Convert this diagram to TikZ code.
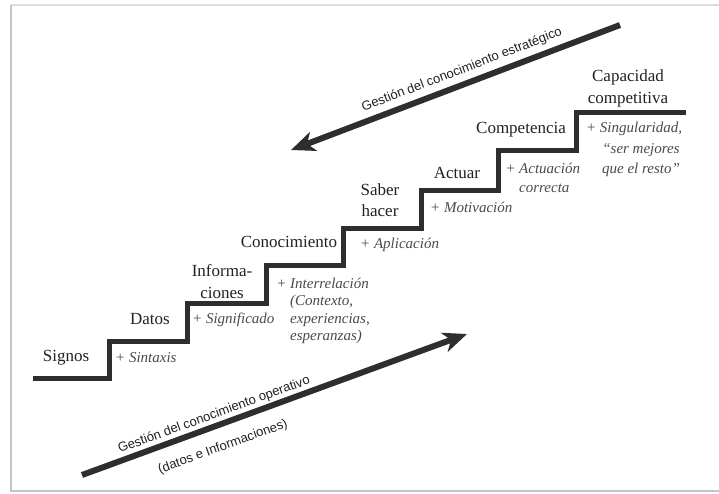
\documentclass[tikz,border=0pt]{standalone}
\usepackage{fontspec}
\setmainfont{Liberation Serif}
\newfontfamily\arrowfont{Liberation Sans}
\usetikzlibrary{arrows.meta}
\definecolor{ink}{HTML}{222222}
\definecolor{note}{HTML}{4A4A4A}
\definecolor{stairgray}{HTML}{2E2E2E}
\definecolor{framegray}{HTML}{C4C4C4}

\begin{document}
\begin{tikzpicture}[x=1pt,y=-1pt,
  stage/.style={text=ink, font=\fontsize{17}{21.5}\selectfont, align=center, inner sep=0pt},
  gain/.style={text=note, font=\fontsize{15}{18}\selectfont\itshape, align=left, inner sep=0pt},
  flowlabel/.style={text=ink, font=\arrowfont\fontsize{13}{15}\selectfont, inner sep=0pt},
  flow/.style={draw=stairgray, line width=6pt, -{Stealth[length=24pt,width=20pt,inset=7pt]}},
  stairline/.style={draw=stairgray, line width=5pt, miter limit=10},
]
\useasboundingbox (0,0) rectangle (719,493);
\fill[white] (0,0) rectangle (719,493);

% card frame
\draw[framegray!60, line width=1.2pt] (11,5) -- (725,5);
\draw[framegray, line width=1.5pt] (11,5) -- (11,491) -- (725,491);

% the staircase
\draw[stairline] (33,378) -- (109,378) -- (109,341) -- (187,341) -- (187,303)
  -- (266,303) -- (266,265) -- (343,265) -- (343,228) -- (421,228) -- (421,190)
  -- (498,190) -- (498,150) -- (576,150) -- (576,112) -- (686,112);

% steps
\node[stage] (signos) at (66,358) {Signos};
\node[stage] (datos) at (150,319) {Datos};
\node[stage, font=\fontsize{17}{22}\selectfont] (info) at (222,282) {Informa-\\ciones};
\node[stage] (conoc) at (289,242) {Conocimiento};
\node[stage] (saber) at (380,200) {Saber\\hacer};
\node[stage] (actuar) at (457,173) {Actuar};
\node[stage] (compet) at (521,130) {Competencia};
\node[stage, font=\fontsize{17}{22}\selectfont] (capac) at (628,88) {Capacidad\\competitiva};

% what each step adds
\node[gain, anchor=west] (sintaxis) at (115,358) {+ Sintaxis};
\node[gain, anchor=west] (signif) at (192,320) {+ Significado};
\node[gain, anchor=west, font=\fontsize{15}{17.5}\selectfont\itshape] (interrel) at (290,311)
  {\llap{+\ }Interrelación\\(Contexto,\\experiencias,\\esperanzas)};
\node[gain, anchor=west] (aplic) at (360,245) {+ Aplicación};
\node[gain, anchor=west] (motiv) at (430,207) {+ Motivación};
\node[gain, anchor=west, font=\fontsize{15}{19}\selectfont\itshape] (actuac) at (519,177.5)
  {\llap{+\ }Actuación\\correcta};
\node[gain, align=center, font=\fontsize{15}{20.5}\selectfont\itshape] (singul) at (641,149.5)
  {\llap{+\ }Singularidad,\\“ser mejores\\que el resto”};

% knowledge management flows
\coordinate (strat-tail) at (620,25);
\coordinate (strat-tip) at (291,150);
\coordinate (oper-tail) at (82,475);
\coordinate (oper-tip) at (467,334);
\draw[flow] (strat-tail) -- (strat-tip);
\draw[flow] (oper-tail) -- (oper-tip);

\node[flowlabel, rotate=21] (strat-label) at (462,70) {Gestión del conocimiento estratégico};
\node[flowlabel, rotate=20] (oper-label) at (214,415) {Gestión del conocimiento operativo};
\node[flowlabel, rotate=20] (oper-sub) at (223,447) {(datos e Informaciones)};
\end{tikzpicture}
\end{document}
